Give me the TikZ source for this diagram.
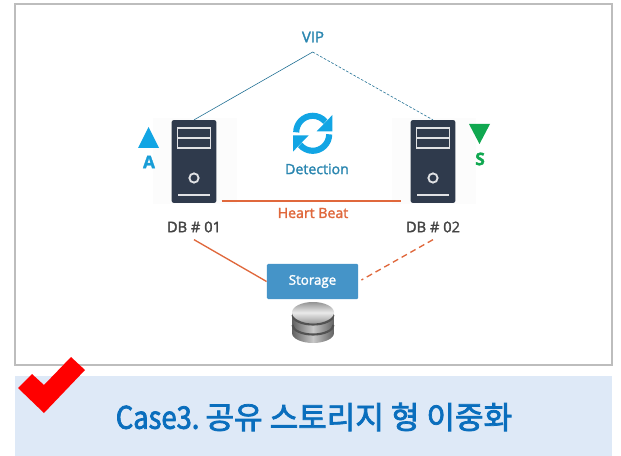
\documentclass[tikz,border=0pt]{standalone}
\usepackage{fontspec}
\setmainfont{Noto Sans CJK KR}
\newfontfamily\latinf[FakeBold=1.8]{Open Sans}
\newfontfamily\ttlf[FakeBold=2.4]{Noto Sans CJK KR}
\newfontfamily\ttll[FakeBold=2.4,FakeStretch=0.88]{Noto Sans CJK KR}
\usetikzlibrary{arrows.meta,calc}
\definecolor{srv}{HTML}{2F3A4C}
\definecolor{teal}{HTML}{2A86B0}
\definecolor{sky}{HTML}{12A5E4}
\definecolor{grn}{HTML}{10A850}
\definecolor{org}{HTML}{E0683C}
\definecolor{stor}{HTML}{4594C8}
\definecolor{band}{HTML}{DEE9F7}
\definecolor{ttl}{HTML}{0A6EBD}
\definecolor{frm}{HTML}{BDBDBD}
\definecolor{lab}{HTML}{444444}
\tikzset{
  serverbox/.style={draw=none,fill=srv,rounded corners=1.5pt,minimum width=33.5pt,minimum height=62pt,inner sep=0pt},
  srvline/.style={draw=white!85!srv,line width=1.1pt},
  lbl/.style={font=\latinf\fontsize{11pt}{12pt}\selectfont,inner sep=0pt},
  orglink/.style={draw=org,line width=1pt},
  viplink/.style={draw=teal!85!black,line width=0.45pt}
}
\begin{document}
\begin{tikzpicture}[x=0.75pt,y=-0.75pt]
\useasboundingbox (0,0) rectangle (621,456);
\fill[white] (0,0) rectangle (621,456);
% frame
\draw[frm,line width=1pt] (15,4) rectangle (612,365);
% bottom band
\fill[band] (15,376) rectangle (612,456);
% faint backdrop of the servers
\fill[black!1] (153,118) rectangle (237,204);
\fill[black!1] (392,118) rectangle (476,204);
% servers
\node[serverbox] (s1) at (194,161.5) {};
\node[serverbox] (s2) at (433,161.5) {};
\foreach \s in {s1,s2}{
  \draw[srvline] ($(\s.center)+(-16.5,-33.5)$) rectangle ($(\s.center)+(16.5,-13.5)$);
  \draw[srvline] ($(\s.center)+(-16.5,-23.5)$) -- ($(\s.center)+(16.5,-23.5)$);
  \draw[srvline,line width=1.4pt] ($(\s.center)+(0,16.5)$) circle (4.6);
  \draw[srvline] ($(\s.center)+(-16,33.5)$) -- ($(\s.center)+(16,33.5)$);
}
% labels
\node[lbl,text=teal,font=\latinf\fontsize{11.2pt}{12pt}\selectfont] (vip) at (313,37) {VIP};
\coordinate (apex) at (312.7,52);
\node[lbl,text=lab] (db1) at (194,227) {DB \# 01};
\node[lbl,text=lab] (db2) at (433,227) {DB \# 02};
\node[lbl,text=org,font=\latinf\fontsize{10.6pt}{12pt}\selectfont] (hb) at (313,213) {Heart Beat};
\node[lbl,text=teal,font=\latinf\fontsize{10.6pt}{12pt}\selectfont] (det) at (317,169) {Detection};
\node[lbl,text=sky!75!teal,font=\latinf\bfseries\fontsize{13pt}{14pt}\selectfont] (a) at (149,162) {A};
\node[lbl,text=grn,font=\latinf\bfseries\fontsize{13pt}{14pt}\selectfont] (s) at (480,159) {S};
% triangles
\fill[sky] (138,148) -- (159,148) -- (148.5,127) -- cycle;
\fill[grn] (469,124) -- (490,124) -- (479.5,144) -- cycle;
% sync icon (the y axis points down here, so angles run the other way)
\begin{scope}[shift={(312.7,133.3)}]
  \draw[sky,line width=4.6pt] (-16.5,-1) arc[start angle=180,end angle=320,radius=16.5];
  \draw[sky,line width=4.6pt] (16.5,1) arc[start angle=0,end angle=140,radius=16.5];
  \fill[sky] (19.7,-18.3) -- (19.7,-2) -- (4,-2) -- cycle;
  \fill[sky] (-19.7,18.3) -- (-19.7,2) -- (-4,2) -- cycle;
\end{scope}
% storage
\node[fill=stor,rounded corners=1pt,minimum width=68.5pt,minimum height=26.5pt,inner sep=0pt,text=white,font=\latinf\fontsize{10pt}{12pt}\selectfont] (st) at (312.5,281.5) {Storage};
% connectors
\draw[viplink] (apex) -- (s1.north);
\draw[viplink,dash pattern=on 2pt off 1.2pt] (apex) -- (s2.north);
\draw[orglink,shorten <=3.75pt,shorten >=6.7pt] (s1.east |- 0,201) -- (s2.west |- 0,201);
\draw[orglink] ($(db1.south)+(0,7)$) -- (st.west);
\draw[orglink,dash pattern=on 4.5pt off 3pt] ($(db2.south)+(0,7)$) -- ($(st.east)+(3,-1.5)$);
% disk
\shade[left color=black!62,right color=black!62,middle color=black!22]
  (292,312.5) -- (292,333) arc[start angle=180,end angle=0,x radius=21,y radius=10] -- (334,312.5) -- cycle;
\foreach \y in {315,325}{
  \draw[black!68,line width=1.6pt] (292.5,\y) arc[start angle=180,end angle=0,x radius=20.5,y radius=9.5];
}
\shade[top color=black!42,bottom color=black!38,middle color=black!8]
  (313,312.5) ellipse[x radius=21,y radius=10.5];
% check mark
\fill[red] (18,388) -- (32,374) -- (44,385) -- (71,357) -- (85,370) -- (44,413) -- cycle;
% title
\node[inner sep=0pt,text=ttl,font=\fontsize{23.3pt}{26pt}\selectfont] (title) at (314,417) {\ttll Case3.\ \ttlf 공유 스토리지 형 이중화};
\end{tikzpicture}
\end{document}
